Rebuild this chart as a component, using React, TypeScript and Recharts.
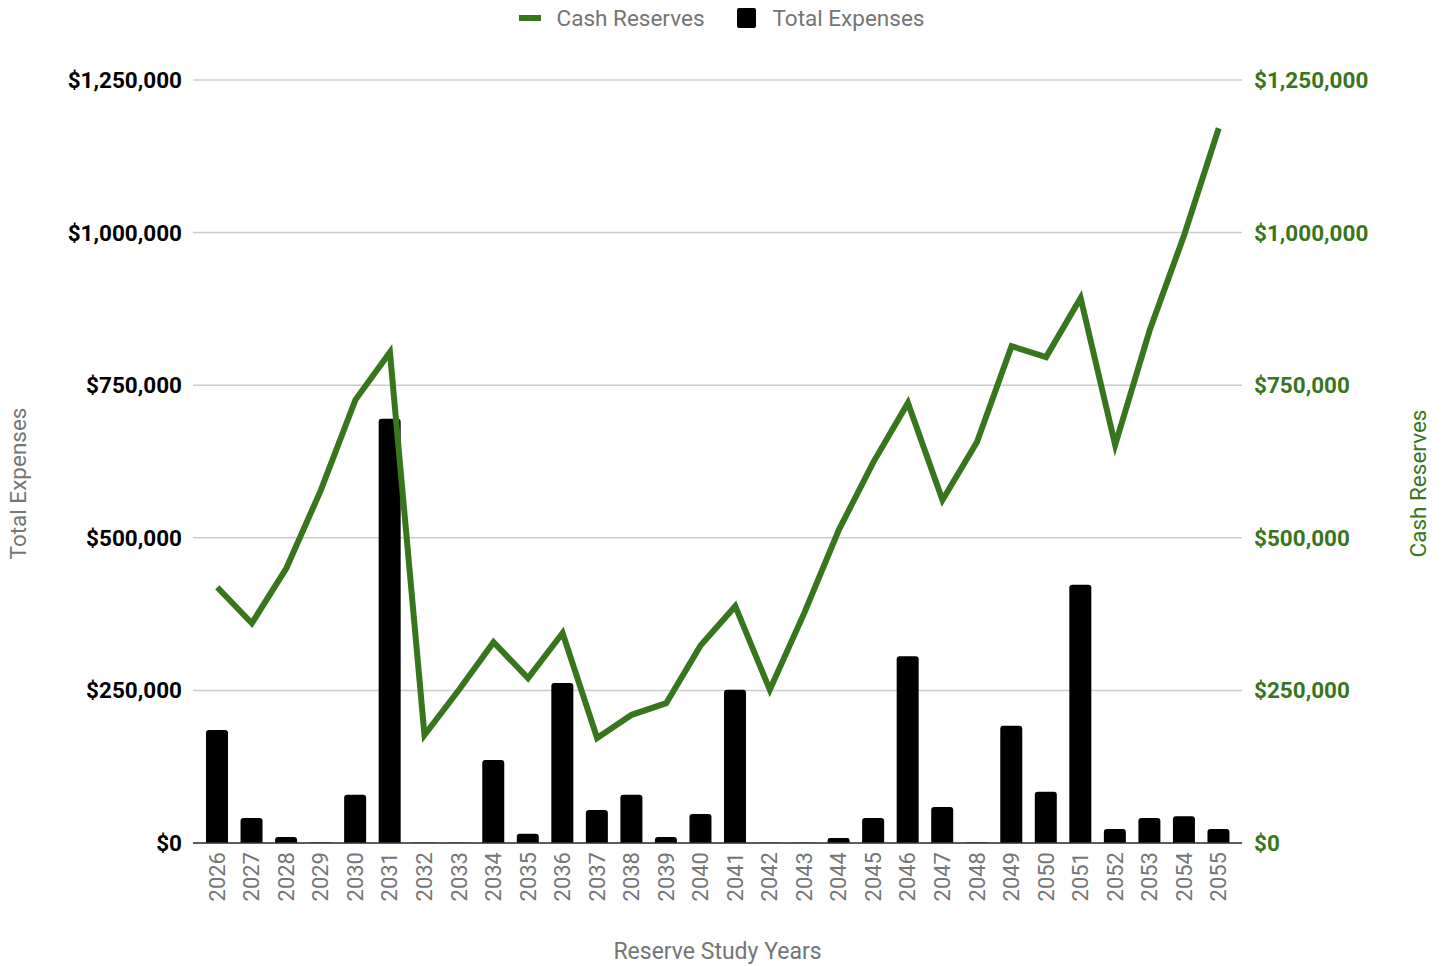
import {
  ComposedChart,
  Bar,
  Line,
  XAxis,
  YAxis,
  CartesianGrid,
  Legend,
} from 'recharts';

const years = [
  '2026', '2027', '2028', '2029', '2030', '2031', '2032', '2033', '2034', '2035',
  '2036', '2037', '2038', '2039', '2040', '2041', '2042', '2043', '2044', '2045',
  '2046', '2047', '2048', '2049', '2050', '2051', '2052', '2053', '2054', '2055',
];

const totalExpenses = [
  185000, 41000, 10000, 1000, 79000, 695000, 500, 500, 136000, 15000,
  262000, 54000, 79000, 10000, 47500, 251000, 500, 500, 8000, 41000,
  306000, 59000, 800, 192000, 84000, 423000, 23000, 41000, 44000, 23000,
];

const cashReserves = [
  419000, 360000, 450000, 578000, 726000, 804000, 177000, 251000, 329000, 270000,
  344000, 172000, 210000, 229000, 324000, 388000, 251000, 377000, 513000, 624000,
  721000, 562000, 657000, 814000, 796000, 893000, 652000, 840000, 996000, 1171000,
];

const yTicks = [0, 250000, 500000, 750000, 1000000, 1250000];

const GREEN = '#38761d';
const GRAY = '#757575';
const FONT = 'Roboto, sans-serif';

const data = years.map((year, i) => ({
  year,
  expenses: totalExpenses[i],
  reserves: cashReserves[i],
}));

const money = (v: number) => '$' + v.toLocaleString('en-US');

const YearTick = ({ x, y, payload }: any) => (
  <text
    transform={`translate(${x},${y}) rotate(-90)`}
    x={0}
    y={0}
    textAnchor="end"
    dominantBaseline="central"
    fill={GRAY}
    fontSize={22}
    fontFamily={FONT}
  >
    {payload.value}
  </text>
);

// rotated axis title, centred a little below the middle of the plot like the original
const SideTitle = ({ viewBox, value, color, side }: any) => {
  const cx = side === 'left' ? viewBox.x + 18 : viewBox.x + viewBox.width - 25;
  const cy = viewBox.y + viewBox.height / 2 + 22;
  return (
    <text
      transform={`translate(${cx},${cy}) rotate(-90)`}
      x={0}
      y={0}
      textAnchor="middle"
      dominantBaseline="central"
      fill={color}
      fontSize={22.5}
      fontFamily={FONT}
    >
      {value}
    </text>
  );
};

const LegendContent = () => (
  <div
    style={{
      height: 36,
      display: 'flex',
      justifyContent: 'center',
      alignItems: 'center',
      fontFamily: FONT,
      fontSize: 22.5,
      color: GRAY,
    }}
  >
    <span style={{ width: 22, height: 6, background: GREEN, marginRight: 16 }} />
    <span>Cash Reserves</span>
    <span
      style={{
        width: 19,
        height: 20,
        background: '#000',
        borderRadius: 2,
        marginLeft: 32,
        marginRight: 17,
      }}
    />
    <span>Total Expenses</span>
  </div>
);

export default function App() {
  return (
    <div style={{ position: 'absolute', left: 0, top: 0, background: '#fff' }}>
      <ComposedChart
        width={1443}
        height={966}
        data={data}
        margin={{ top: 44, right: 0, bottom: 0, left: 0 }}
        barCategoryGap="36%"
        style={{ fontFamily: FONT }}
      >
        <Legend
          verticalAlign="top"
          align="center"
          content={<LegendContent />}
          wrapperStyle={{ top: 0, left: 0, width: 1443 }}
        />
        <CartesianGrid
          yAxisId="left"
          vertical={false}
          stroke="#cccccc"
          strokeWidth={1.5}
        />
        <XAxis
          dataKey="year"
          height={123}
          padding={{ left: 7, right: 6 }}
          tickLine={false}
          tickMargin={3}
          interval={0}
          tick={<YearTick />}
          axisLine={{ stroke: '#333333', strokeWidth: 1.5 }}
          label={{
            value: 'Reserve Study Years',
            position: 'insideBottom',
            offset: 7,
            fill: GRAY,
            fontSize: 23,
            fontFamily: FONT,
          }}
        />
        <YAxis
          yAxisId="left"
          width={193}
          domain={[0, 1250000]}
          ticks={yTicks}
          tickFormatter={money}
          axisLine={false}
          tickLine={false}
          tickMargin={5}
          tick={{ fill: '#000000', fontSize: 22.5, fontWeight: 700, fontFamily: FONT }}
          label={<SideTitle value="Total Expenses" color={GRAY} side="left" />}
        />
        <YAxis
          yAxisId="right"
          orientation="right"
          width={201}
          domain={[0, 1250000]}
          ticks={yTicks}
          tickFormatter={money}
          axisLine={false}
          tickLine={false}
          tickMargin={6}
          tick={{ fill: GREEN, fontSize: 22.5, fontWeight: 700, fontFamily: FONT }}
          label={<SideTitle value="Cash Reserves" color={GREEN} side="right" />}
        />
        <Bar
          yAxisId="left"
          dataKey="expenses"
          name="Total Expenses"
          fill="#000000"
          barSize={22}
          radius={[3, 3, 0, 0]}
          isAnimationActive={false}
        />
        <Line
          yAxisId="right"
          dataKey="reserves"
          name="Cash Reserves"
          type="linear"
          stroke={GREEN}
          strokeWidth={6}
          dot={false}
          activeDot={false}
          isAnimationActive={false}
        />
      </ComposedChart>
    </div>
  );
}
